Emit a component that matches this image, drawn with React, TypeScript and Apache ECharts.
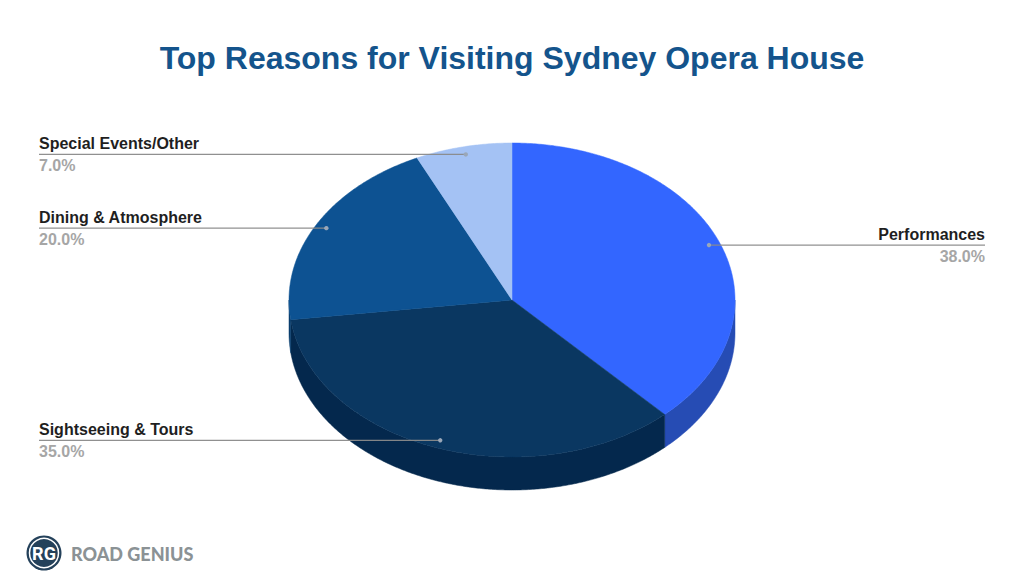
import React, { useEffect, useRef } from "react";
import * as echarts from "echarts";

const titleText = "Top Reasons for Visiting Sydney Opera House";
const categories = ["Performances", "Sightseeing & Tours", "Dining & Atmosphere", "Special Events/Other"];
const shares = [38, 35, 20, 7];
const topColors = ["#3366ff", "#0a3761", "#0d5292", "#a4c2f4"];
const sideColors = ["#264cb4", "#04284d", "#0a3e6e", "#7b92b8"];

const FONT = '"Liberation Sans", Arial, sans-serif';
const CX = 512, CY = 300, RX = 223, RY = 157, DEPTH = 33;
const LABEL_LEFT = 39, LABEL_RIGHT = 985, ANCHOR = 0.95;

const total = shares.reduce((a, b) => a + b, 0);
const starts = shares.map((_, i) => shares.slice(0, i).reduce((a, b) => a + b, 0));
const toAngle = (v: number) => (v / total) * Math.PI * 2;
const pt = (a: number, r = 1, dy = 0): number[] => [CX + RX * r * Math.sin(a), CY - RY * r * Math.cos(a) + dy];
function arcPts(a0: number, a1: number, dy = 0) {
  const n = Math.max(2, Math.ceil((a1 - a0) / (Math.PI / 360)));
  const out: number[][] = [];
  for (let k = 0; k <= n; k++) out.push(pt(a0 + ((a1 - a0) * k) / n, 1, dy));
  return out;
}

const data = shares.map((v, i) => ({ value: [v, i], name: categories[i] }));

function renderSide(_: any, api: any) {
  const i = api.value(1);
  const a0 = Math.max(toAngle(starts[i]), Math.PI / 2);
  const a1 = Math.min(toAngle(starts[i] + api.value(0)), (Math.PI * 3) / 2);
  if (a1 <= a0) return { type: "group", children: [] };
  const pts = [...arcPts(a0, a1), ...arcPts(a0, a1, DEPTH).reverse()];
  return {
    type: "polygon",
    shape: { points: pts },
    style: { fill: sideColors[i], stroke: sideColors[i], lineWidth: 0.5 },
  };
}

function renderTop(_: any, api: any) {
  const i = api.value(1);
  const a0 = toAngle(starts[i]);
  const a1 = toAngle(starts[i] + api.value(0));
  return {
    type: "polygon",
    shape: { points: [[CX, CY], ...arcPts(a0, a1)] },
    style: { fill: topColors[i], stroke: topColors[i], lineWidth: 0.5 },
  };
}

function renderLabel(_: any, api: any) {
  const i = api.value(1);
  const v = api.value(0);
  const [x, y] = pt(toAngle(starts[i] + v / 2), ANCHOR);
  const right = x > CX;
  const tx = right ? LABEL_RIGHT : LABEL_LEFT;
  return {
    type: "group",
    children: [
      { type: "line", shape: { x1: tx, y1: y, x2: x, y2: y }, style: { stroke: "#8a8a8a", lineWidth: 1.2, opacity: 0.95 } },
      { type: "circle", shape: { cx: x, cy: y, r: 2.2 }, style: { fill: "#9aa7b8" } },
      {
        type: "text",
        style: { x: tx, y: y - 11, text: categories[i], fill: "#1f1f1f", font: `bold 16px ${FONT}`, align: right ? "right" : "left", verticalAlign: "middle" },
      },
      {
        type: "text",
        style: { x: tx, y: y + 11, text: `${v.toFixed(1)}%`, fill: "#a6a6a6", font: `bold 16px ${FONT}`, align: right ? "right" : "left", verticalAlign: "middle" },
      },
    ],
  };
}

export default function App() {
  const ref = useRef<HTMLDivElement>(null);
  useEffect(() => {
    document.body.style.margin = "0";
    const chart = echarts.init(ref.current!, undefined, { renderer: "svg" });
    chart.setOption({
      animation: false,
      backgroundColor: "#ffffff",
      title: {
        text: titleText,
        left: "center",
        top: 37,
        textStyle: { color: "#14548c", fontFamily: FONT, fontWeight: "bold", fontSize: 32 },
      },
      graphic: [
        { type: "circle", shape: { cx: 44, cy: 553, r: 17.5 }, style: { fill: "#24415a" } },
        { type: "circle", shape: { cx: 44, cy: 553, r: 14.5 }, style: { fill: "#24415a", stroke: "#ffffff", lineWidth: 1.5 } },
        { type: "text", style: { x: 44, y: 553, text: "RG", fill: "#ffffff", font: `bold 18px "Roboto", ${FONT}`, align: "center", verticalAlign: "middle" } },
        { type: "text", style: { x: 71, y: 554, text: "ROAD GENIUS", fill: "#8b9295", font: `900 18px "Lato", ${FONT}`, align: "left", verticalAlign: "middle" } },
      ],
      series: [
        { type: "custom", coordinateSystem: "none", renderItem: renderSide, data, silent: true },
        { type: "custom", coordinateSystem: "none", renderItem: renderTop, data, silent: true },
        { type: "custom", coordinateSystem: "none", renderItem: renderLabel, data, silent: true },
      ],
    });
    return () => chart.dispose();
  }, []);
  return <div ref={ref} style={{ width: 1024, height: 582 }} />;
}
